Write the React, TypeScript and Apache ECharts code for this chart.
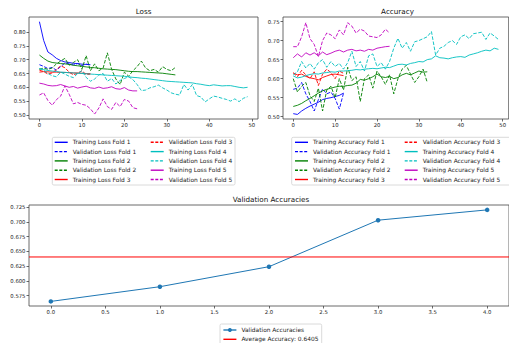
import React, { useEffect, useRef } from "react";
import * as echarts from "echarts";

// ---------- data ----------
const trainLoss1 = [0.838, 0.77, 0.728, 0.718, 0.705, 0.697, 0.692, 0.69, 0.687, 0.686, 0.684, 0.683, 0.682];
const valLoss1 = [0.682, 0.676, 0.668, 0.672, 0.662, 0.675, 0.688, 0.685, 0.681, 0.686, 0.679, 0.684, 0.681];
const trainLoss2 = [0.717, 0.705, 0.695, 0.69, 0.688, 0.686, 0.685, 0.683, 0.68, 0.678, 0.676, 0.674, 0.672, 0.671, 0.669, 0.667, 0.666, 0.665, 0.664, 0.662, 0.66, 0.658, 0.657, 0.657, 0.656, 0.655, 0.654, 0.653, 0.652, 0.651, 0.649, 0.647, 0.645];
const valLoss2 = [0.665, 0.67, 0.665, 0.67, 0.685, 0.695, 0.705, 0.68, 0.69, 0.7, 0.665, 0.715, 0.66, 0.685, 0.66, 0.67, 0.725, 0.665, 0.63, 0.61, 0.655, 0.64, 0.66, 0.675, 0.695, 0.67, 0.66, 0.665, 0.655, 0.675, 0.665, 0.66, 0.672];
const trainLoss3 = [0.655, 0.657, 0.656, 0.655, 0.655, 0.654, 0.654, 0.653, 0.652, 0.652, 0.651, 0.65, 0.649];
const valLoss3 = [0.662, 0.657, 0.648, 0.652, 0.664, 0.678, 0.671, 0.655, 0.645, 0.651, 0.66, 0.646, 0.648];
const trainLoss4 = [0.668, 0.664, 0.661, 0.659, 0.657, 0.655, 0.654, 0.653, 0.652, 0.651, 0.65, 0.649, 0.648, 0.647, 0.646, 0.645, 0.644, 0.643, 0.642, 0.641, 0.64, 0.638, 0.636, 0.635, 0.633, 0.632, 0.63, 0.628, 0.626, 0.624, 0.622, 0.621, 0.62, 0.619, 0.618, 0.617, 0.616, 0.613, 0.611, 0.608, 0.606, 0.609, 0.607, 0.605, 0.606, 0.606, 0.603, 0.6, 0.598, 0.6];
const valLoss4 = [0.668, 0.662, 0.65, 0.642, 0.638, 0.655, 0.648, 0.64, 0.635, 0.65, 0.66, 0.636, 0.622, 0.63, 0.645, 0.65, 0.622, 0.632, 0.612, 0.625, 0.632, 0.638, 0.628, 0.61, 0.588, 0.59, 0.598, 0.602, 0.608, 0.598, 0.59, 0.58, 0.575, 0.572, 0.61, 0.59, 0.61, 0.57, 0.565, 0.547, 0.558, 0.568, 0.565, 0.56, 0.556, 0.55, 0.558, 0.548, 0.56, 0.566];
const trainLoss5 = [0.615, 0.612, 0.607, 0.605, 0.606, 0.61, 0.605, 0.6, 0.603, 0.597, 0.601, 0.604, 0.598, 0.596, 0.601, 0.596, 0.598, 0.602, 0.595, 0.593, 0.599, 0.59, 0.587, 0.587];
const valLoss5 = [0.572, 0.58, 0.552, 0.535, 0.555, 0.568, 0.605, 0.575, 0.54, 0.545, 0.538, 0.535, 0.522, 0.503, 0.525, 0.558, 0.53, 0.52, 0.545, 0.53, 0.556, 0.55, 0.526, 0.522];

const trainAcc1 = [0.508, 0.506, 0.515, 0.522, 0.528, 0.533, 0.538, 0.545, 0.548, 0.55, 0.553, 0.556, 0.562];
const valAcc1 = [0.572, 0.575, 0.59, 0.56, 0.54, 0.515, 0.545, 0.573, 0.56, 0.565, 0.548, 0.52, 0.562];
const trainAcc2 = [0.527, 0.53, 0.535, 0.542, 0.548, 0.555, 0.562, 0.568, 0.572, 0.575, 0.578, 0.58, 0.58, 0.582, 0.583, 0.588, 0.598, 0.596, 0.6, 0.605, 0.612, 0.605, 0.603, 0.606, 0.6, 0.603, 0.61, 0.614, 0.61, 0.615, 0.62, 0.617, 0.618];
const valAcc2 = [0.6, 0.565, 0.58, 0.59, 0.555, 0.54, 0.575, 0.515, 0.57, 0.58, 0.55, 0.6, 0.57, 0.63, 0.595, 0.605, 0.54, 0.6, 0.61, 0.575, 0.62, 0.605, 0.585, 0.61, 0.56, 0.6, 0.625, 0.635, 0.612, 0.59, 0.605, 0.625, 0.59];
const trainAcc3 = [0.615, 0.61, 0.612, 0.606, 0.602, 0.6, 0.597, 0.603, 0.607, 0.611, 0.612, 0.61, 0.608];
const valAcc3 = [0.615, 0.605, 0.622, 0.61, 0.6, 0.618, 0.582, 0.612, 0.625, 0.616, 0.6, 0.62, 0.614];
const trainAcc4 = [0.607, 0.602, 0.604, 0.608, 0.611, 0.613, 0.612, 0.615, 0.616, 0.618, 0.617, 0.62, 0.62, 0.621, 0.622, 0.624, 0.623, 0.625, 0.626, 0.627, 0.626, 0.628, 0.63, 0.629, 0.633, 0.637, 0.638, 0.636, 0.64, 0.642, 0.645, 0.644, 0.65, 0.652, 0.66, 0.655, 0.654, 0.652, 0.655, 0.657, 0.658, 0.656, 0.662, 0.665, 0.668, 0.672, 0.675, 0.673, 0.68, 0.677];
const valAcc4 = [0.61, 0.618, 0.645, 0.628, 0.64, 0.625, 0.642, 0.65, 0.63, 0.645, 0.632, 0.64, 0.625, 0.642, 0.672, 0.632, 0.645, 0.62, 0.66, 0.665, 0.632, 0.642, 0.625, 0.645, 0.68, 0.706, 0.68, 0.695, 0.672, 0.697, 0.7, 0.705, 0.71, 0.724, 0.662, 0.68, 0.685, 0.695, 0.7, 0.69, 0.71, 0.715, 0.705, 0.718, 0.72, 0.722, 0.703, 0.72, 0.712, 0.703];
const trainAcc5 = [0.655, 0.665, 0.657, 0.668, 0.662, 0.668, 0.66, 0.67, 0.663, 0.667, 0.672, 0.675, 0.67, 0.675, 0.677, 0.673, 0.675, 0.672, 0.677, 0.675, 0.68, 0.682, 0.684, 0.685];
const valAcc5 = [0.684, 0.684, 0.71, 0.747, 0.705, 0.69, 0.658, 0.7, 0.72, 0.715, 0.705, 0.728, 0.715, 0.747, 0.738, 0.72, 0.73, 0.725, 0.712, 0.71, 0.708, 0.715, 0.73, 0.72];

const foldValAcc = [0.565, 0.59, 0.624, 0.703, 0.7205];
const foldIdx = [0, 1, 2, 3, 4];

const epochTicks = [0, 10, 20, 30, 40, 50];
const lossTicks = [0.5, 0.55, 0.6, 0.65, 0.7, 0.75, 0.8];
const accTicks = [0.5, 0.55, 0.6, 0.65, 0.7, 0.75];
const foldTicks = [0, 0.5, 1, 1.5, 2, 2.5, 3, 3.5, 4];
const valTicks = [0.575, 0.6, 0.625, 0.65, 0.675, 0.7, 0.725];

const foldColors = ["#0000ff", "#008000", "#ff0000", "#00bfbf", "#bf00bf"];
const lossTrain = [trainLoss1, trainLoss2, trainLoss3, trainLoss4, trainLoss5];
const lossVal = [valLoss1, valLoss2, valLoss3, valLoss4, valLoss5];
const accTrain = [trainAcc1, trainAcc2, trainAcc3, trainAcc4, trainAcc5];
const accVal = [valAcc1, valAcc2, valAcc3, valAcc4, valAcc5];

const FONT = "DejaVu Sans";

export default function App() {
  const ref = useRef<HTMLDivElement>(null);
  useEffect(() => {
    if (!ref.current) return;
    const chart = echarts.init(ref.current, undefined, { renderer: "svg" });

    const avg = foldValAcc.reduce((a, b) => a + b, 0) / foldValAcc.length;
    const avgName = "Average Accuracy: " + avg.toFixed(4);

    const series: any[] = [];
    const lossNames: string[] = [];
    const accNames: string[] = [];
    const mk = (name: string, data: number[], color: string, dashed: boolean, g: number) => ({
      type: "line",
      name,
      xAxisIndex: g,
      yAxisIndex: g,
      data: data.map((v, i) => [i, v]),
      symbol: "none",
      silent: true,
      lineStyle: { color, width: 0.9, type: dashed ? [3.6, 1.6] : "solid" },
      itemStyle: { color },
    });
    for (let f = 0; f < 5; f++) {
      const tn = `Training Loss Fold ${f + 1}`;
      const vn = `Validation Loss Fold ${f + 1}`;
      series.push(mk(tn, lossTrain[f], foldColors[f], false, 0));
      series.push(mk(vn, lossVal[f], foldColors[f], true, 0));
      lossNames.push(tn, vn);
    }
    for (let f = 0; f < 5; f++) {
      const tn = `Training Accuracy Fold ${f + 1}`;
      const vn = `Validation Accuracy Fold ${f + 1}`;
      series.push(mk(tn, accTrain[f], foldColors[f], false, 1));
      series.push(mk(vn, accVal[f], foldColors[f], true, 1));
      accNames.push(tn, vn);
    }
    series.push({
      type: "line",
      name: "Validation Accuracies",
      xAxisIndex: 2,
      yAxisIndex: 2,
      data: foldIdx.map((x, i) => [x, foldValAcc[i]]),
      symbol: "circle",
      symbolSize: 4.5,
      silent: true,
      lineStyle: { color: "#1f77b4", width: 1 },
      itemStyle: { color: "#1f77b4" },
    });
    series.push({
      type: "line",
      name: avgName,
      xAxisIndex: 2,
      yAxisIndex: 2,
      data: [[-0.2, avg], [4.2, avg]],
      symbol: "none",
      silent: true,
      lineStyle: { color: "#ff0000", width: 1 },
      itemStyle: { color: "#ff0000" },
    });

    const axisCommon = {
      axisLine: { show: false, onZero: false },
      splitLine: { show: false },
      axisTick: { show: true, length: 2.5, lineStyle: { color: "#444", width: 0.8 } },
    };
    const lbl = { fontSize: 5.3, color: "#222", fontFamily: FONT, margin: 3.5 };
    const ax = (g: number, min: number, max: number, ticks: number[], dec: number) => ({
      type: "value",
      gridIndex: g,
      min,
      max,
      ...axisCommon,
      axisTick: { ...axisCommon.axisTick, customValues: ticks },
      axisLabel: { ...lbl, customValues: ticks, formatter: (v: number) => v.toFixed(dec) },
    });

    const gridStyle = { show: true, borderColor: "#444", borderWidth: 0.8, containLabel: false };

    const legendBase = {
      orient: "vertical",
      padding: 0,
      itemWidth: 13,
      itemHeight: 5,
      itemGap: 2.3,
      selectedMode: false,
      textStyle: { fontSize: 5.9, color: "#222", fontFamily: FONT, lineHeight: 7 },
    };
    const legendItems = (names: string[], colors: string[], dashed: boolean[], hideSym: boolean[]) =>
      names.map((n, i) => ({
        name: n,
        itemStyle: hideSym[i] ? { opacity: 0 } : { color: colors[i] },
        lineStyle: { color: colors[i], width: 1.4, opacity: 1, type: dashed[i] ? [3, 1.6] : "solid" },
      }));
    const foldLegend = (names: string[], start: number) => {
      const sub = names.slice(start, start + 5);
      const idx = sub.map((_, i) => start + i);
      return legendItems(
        sub,
        idx.map((k) => foldColors[Math.floor(k / 2)]),
        idx.map((k) => k % 2 === 1),
        idx.map(() => true)
      );
    };

    const titleText = (text: string, x: number, y: number) => ({
      type: "text",
      x,
      y,
      style: { text, fontSize: 7.2, fontFamily: FONT, fill: "#111", textAlign: "center", textVerticalAlign: "middle" },
    });
    const box = (x: number, y: number, w: number, h: number) => ({
      type: "rect",
      shape: { x, y, width: w, height: h, r: 1.5 },
      style: { fill: "#fff", stroke: "#d0d0d0", lineWidth: 0.8 },
      z: -1,
    });

    chart.setOption({
      animation: false,
      backgroundColor: "#fff",
      grid: [
        { left: 29, top: 17, width: 229, height: 102, ...gridStyle },
        { left: 283, top: 17, width: 229, height: 102, ...gridStyle },
        { left: 29, top: 205, width: 484, height: 101, ...gridStyle },
      ],
      xAxis: [
        ax(0, -2.45, 51.45, epochTicks, 0),
        ax(1, -2.45, 51.45, epochTicks, 0),
        ax(2, -0.2, 4.2, foldTicks, 1),
      ],
      yAxis: [
        ax(0, 0.485, 0.855, lossTicks, 2),
        ax(1, 0.494, 0.762, accTicks, 2),
        ax(2, 0.5572, 0.7288, valTicks, 3),
      ],
      legend: [
        { ...legendBase, left: 54, top: 138.8, data: foldLegend(lossNames, 0) },
        { ...legendBase, left: 150, top: 138.8, data: foldLegend(lossNames, 5) },
        { ...legendBase, left: 294.3, top: 138.8, data: foldLegend(accNames, 0) },
        { ...legendBase, left: 404, top: 138.8, data: foldLegend(accNames, 5) },
        {
          ...legendBase,
          left: 222.7,
          top: 326.5,
          data: legendItems(["Validation Accuracies", avgName], ["#1f77b4", "#ff0000"], [false, false], [false, true]),
        },
      ],
      graphic: [
        titleText("Loss", 143.5, 11.5),
        titleText("Accuracy", 397.5, 11.5),
        titleText("Validation Accuracies", 271, 199.3),
        box(52.3, 137.3, 182.7, 47.7),
        box(291.7, 137.3, 240, 47.7),
        box(220, 324, 101.7, 30),
      ],
      series,
    });
    return () => chart.dispose();
  }, []);
  return <div ref={ref} style={{ position: "fixed", left: 0, top: 0, width: 509, height: 343 }} />;
}
